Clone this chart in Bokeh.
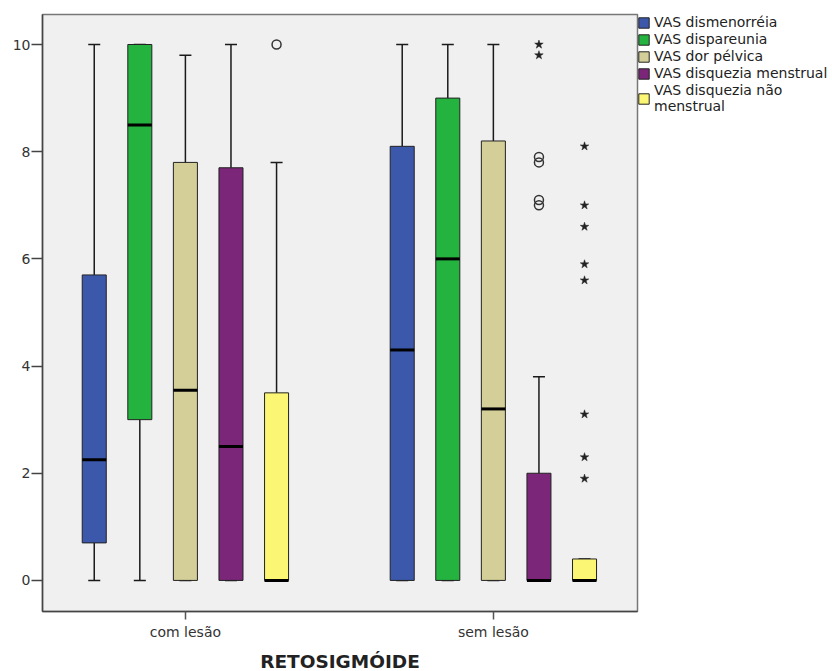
from bokeh.plotting import figure
from bokeh.models import (ColumnDataSource, Range1d, FixedTicker, Legend, LegendItem)
from bokeh.embed import file_html
from bokeh.resources import INLINE

# ---- data ----
groups = ["com lesão", "sem lesão"]
series = ["VAS dismenorréia", "VAS dispareunia", "VAS dor pélvica",
          "VAS disquezia menstrual", "VAS disquezia não\nmenstrual"]
colors = ["#3C58AB", "#25B340", "#D4CF98", "#7B2679", "#FBF775"]

# per series, values for [com lesão, sem lesão]
whisker_low = [[0, 0], [0, 0], [0, 0], [0, 0], [0, 0]]
q1 = [[0.7, 0], [3.0, 0], [0, 0], [0, 0], [0, 0]]
median = [[2.25, 4.3], [8.5, 6.0], [3.55, 3.2], [2.5, 0], [0, 0]]
q3 = [[5.7, 8.1], [10, 9.0], [7.8, 8.2], [7.7, 2.0], [3.5, 0.4]]
whisker_high = [[10, 10], [10, 10], [9.8, 10], [10, 3.8], [7.8, 0.4]]

# outliers: (group index, series index, value)
circle_grp = [0, 1, 1, 1, 1]
circle_ser = [4, 3, 3, 3, 3]
circle_val = [10, 7.9, 7.8, 7.1, 7.0]

star_grp = [1, 1, 1, 1, 1, 1, 1, 1, 1, 1]
star_ser = [3, 3, 4, 4, 4, 4, 4, 4, 4, 4]
star_val = [10.0, 9.8, 8.1, 7.0, 6.6, 5.9, 5.6, 3.1, 2.3, 1.9]

y_ticks = [0, 2, 4, 6, 8, 10]

# ---- layout constants ----
OFFSET = 0.148
BOX_W = 0.078
CAP_W = 0.039
FONT = "DejaVu Sans"

p = figure(frame_width=595, frame_height=597, output_backend="svg",
           toolbar_location=None,
           x_range=Range1d(-0.464, 1.468), y_range=Range1d(-0.58, 10.56),
           min_border_left=42, min_border_top=14, min_border_bottom=52,
           min_border_right=10)
p.background_fill_color = "#F0F0F0"
p.border_fill_color = "white"
p.outline_line_color = "#777777"
p.outline_line_width = 1.5
p.xgrid.visible = False
p.ygrid.visible = False


def xpos(g, s):
    return g + (s - 2) * OFFSET


items = []
for s, name in enumerate(series):
    xs = [xpos(g, s) for g in range(len(groups))]
    src = ColumnDataSource(dict(
        x=xs, x0=[x - CAP_W / 2 for x in xs], x1=[x + CAP_W / 2 for x in xs],
        bx0=[x - BOX_W / 2 for x in xs], bx1=[x + BOX_W / 2 for x in xs],
        wl=whisker_low[s], q1=q1[s], med=median[s], q3=q3[s], wh=whisker_high[s]))
    # whiskers
    p.segment(x0="x", y0="q3", x1="x", y1="wh", source=src, line_color="#1a1a1a", line_width=1.5)
    p.segment(x0="x", y0="wl", x1="x", y1="q1", source=src, line_color="#1a1a1a", line_width=1.5)
    p.segment(x0="x0", y0="wh", x1="x1", y1="wh", source=src, line_color="#1a1a1a", line_width=1.5)
    p.segment(x0="x0", y0="wl", x1="x1", y1="wl", source=src, line_color="#1a1a1a", line_width=1.5)
    # box
    r = p.vbar(x="x", width=BOX_W, bottom="q1", top="q3", source=src,
               fill_color=colors[s], line_color="#222222", line_width=1)
    # median
    p.segment(x0="bx0", y0="med", x1="bx1", y1="med", source=src,
              line_color="black", line_width=3)
    items.append(LegendItem(label=name, renderers=[r]))

# outliers
csrc = ColumnDataSource(dict(x=[xpos(g, s) for g, s in zip(circle_grp, circle_ser)], y=circle_val))
p.scatter(x="x", y="y", source=csrc, marker="circle", size=9, fill_color=None,
          line_color="#333333", line_width=1.5)
ssrc = ColumnDataSource(dict(x=[xpos(g, s) for g, s in zip(star_grp, star_ser)], y=star_val))
p.scatter(x="x", y="y", source=ssrc, marker="star", size=9, fill_color="#222222",
          line_color="#222222", line_width=0.5)

# axes
p.yaxis.ticker = FixedTicker(ticks=y_ticks)
p.yaxis.major_label_text_font = FONT
p.yaxis.major_label_text_font_size = "14px"
p.yaxis.major_label_text_color = "#333333"
p.yaxis.major_tick_out = 11
p.yaxis.major_tick_in = 0
p.yaxis.minor_tick_line_color = None
p.yaxis.axis_line_color = "#444444"
p.yaxis.axis_line_width = 1.5
p.yaxis.major_tick_line_color = "#444444"
p.yaxis.major_tick_line_width = 1.5
p.yaxis.major_label_standoff = 1

p.xaxis.ticker = FixedTicker(ticks=list(range(len(groups))))
p.xaxis.major_label_overrides = {i: g for i, g in enumerate(groups)}
p.xaxis.major_label_text_font = FONT
p.xaxis.major_label_text_font_size = "14px"
p.xaxis.major_label_text_color = "#333333"
p.xaxis.major_tick_out = 8
p.xaxis.major_tick_in = 0
p.xaxis.minor_tick_line_color = None
p.xaxis.axis_line_color = "#444444"
p.xaxis.axis_line_width = 1.5
p.xaxis.major_tick_line_color = "#555555"
p.xaxis.major_tick_line_width = 1.5
p.xaxis.major_label_standoff = 4
p.xaxis.axis_label = "RETOSIGMÓIDE"
p.xaxis.axis_label_text_font = FONT
p.xaxis.axis_label_text_font_style = "bold"
p.xaxis.axis_label_text_font_size = "18.5px"
p.xaxis.axis_label_text_color = "#222222"
p.xaxis.axis_label_standoff = 8

legend = Legend(items=items, location="top_left", margin=0, padding=2,
                border_line_color=None, background_fill_alpha=0,
                glyph_width=13, glyph_height=13, label_standoff=4, spacing=1,
                label_text_font=FONT, label_text_font_size="14px",
                label_text_color="#222222", label_height=14,
                label_text_line_height=1.05)
p.add_layout(legend, "right")

open("out.html", "w").write(file_html(p, INLINE))
